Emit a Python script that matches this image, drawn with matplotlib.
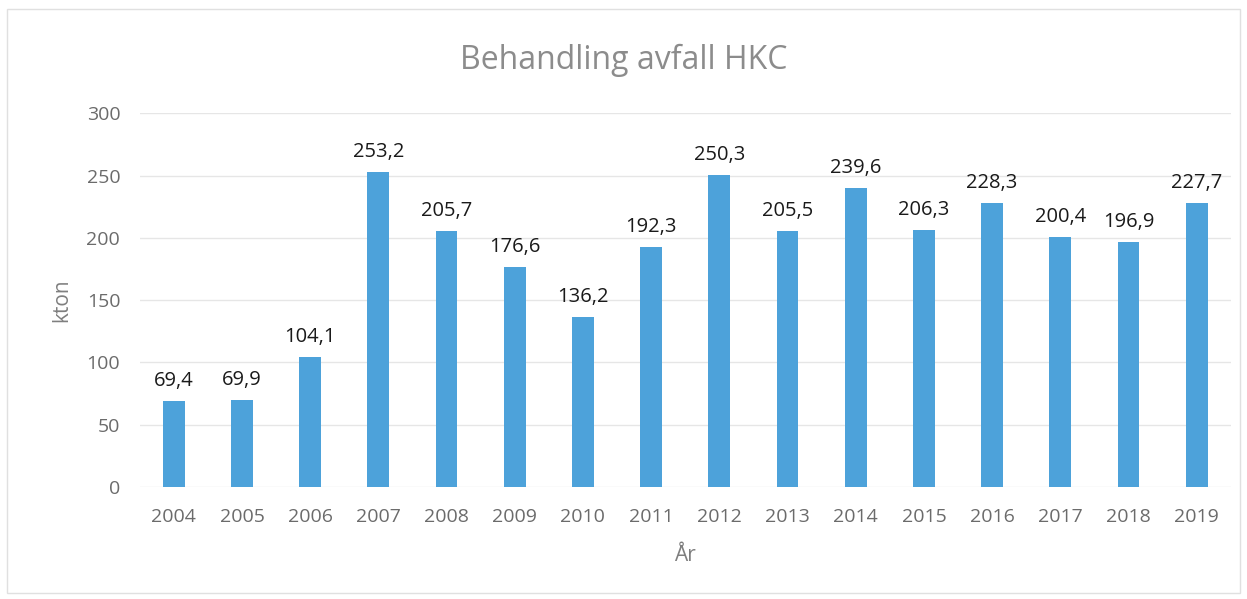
import matplotlib.pyplot as plt
import numpy as np

plt.rcParams["font.family"] = ["Open Sans", "DejaVu Sans"]

years = ["2004", "2005", "2006", "2007", "2008", "2009", "2010", "2011",
         "2012", "2013", "2014", "2015", "2016", "2017", "2018", "2019"]
values = [69.4, 69.9, 104.1, 253.2, 205.7, 176.6, 136.2, 192.3,
          250.3, 205.5, 239.6, 206.3, 228.3, 200.4, 196.9, 227.7]
labels = [f"{v:.1f}".replace(".", ",") for v in values]

fig = plt.figure(figsize=(12.47, 5.99), dpi=100)
ax = fig.add_axes([0.112, 0.187, 0.875, 0.624])

x = np.arange(len(years))
bars = ax.bar(x, values, width=0.32, color="#4DA2DA", zorder=3)
for b, lab in zip(bars, labels):
    ax.text(b.get_x() + b.get_width() / 2, b.get_height() + 8, lab,
            ha="center", va="bottom", fontsize=14.5, color="#1a1a1a")

ax.set_xlim(-0.5, len(years) - 0.5)
ax.set_ylim(0, 300)
ax.set_yticks(range(0, 301, 50))
ax.set_xticks(x)
ax.set_xticklabels(years)
ax.tick_params(length=0, labelsize=14, labelcolor="#6b6b6b")
ax.tick_params(axis="x", pad=15)
ax.tick_params(axis="y", pad=14)
ax.grid(axis="y", color="#e6e6e6", linewidth=1, zorder=0)
for s in ax.spines.values():
    s.set_visible(False)

ax.set_xlabel("År", fontsize=15, color="#7f7f7f", labelpad=14)
ax.set_ylabel("kton", fontsize=15, color="#7f7f7f", labelpad=10)
fig.text(0.5, 0.9, "Behandling avfall HKC", ha="center", va="center",
         fontsize=23, color="#8c8c8c")

fig.patches.append(plt.Rectangle((0.006, 0.01), 0.988, 0.975, transform=fig.transFigure,
                                 fill=False, edgecolor="#e0e0e0", linewidth=1))

fig.savefig("out.png")
